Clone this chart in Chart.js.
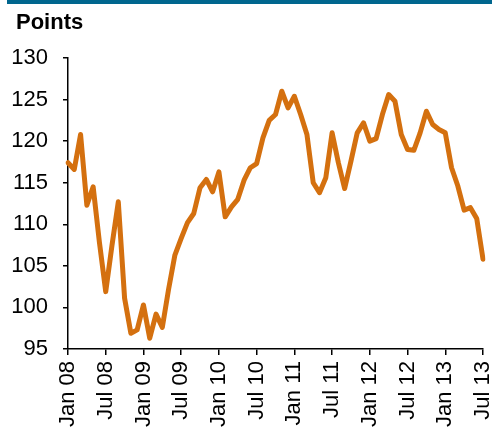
<!DOCTYPE html>
<html>
<head>
<meta charset="utf-8">
<script src="https://cdn.jsdelivr.net/npm/chart.js@4"></script>
<style>
  body { margin: 0; background: #fff; }
  #wrap { position: relative; width: 492px; height: 428px; overflow: hidden; }
  #band { position: absolute; left: 7px; top: 0; width: 485px; height: 4px; background: #00668e; }
  #unit { position: absolute; left: 16px; top: 9px; font: bold 22px "Liberation Sans", Arial, sans-serif; color: #000; }
  canvas { position: absolute; left: 0; top: 0; }
</style>
</head>
<body>
<div id="wrap">
  <canvas id="myChart" width="492" height="428"></canvas>
  <div id="band"></div>
  <div id="unit">Points</div>
</div>
<script>
// monthly index, Jan 08 .. Jul 13
const months = ['Jan', 'Feb', 'Mar', 'Apr', 'May', 'Jun', 'Jul', 'Aug', 'Sep', 'Oct', 'Nov', 'Dec'];
const years = ['08', '09', '10', '11', '12', '13'];
const values = [
  117.4, 116.6, 120.8, 112.3, 114.5, 107.8, 101.9, 107.5, 112.7, 101.1, 96.9, 97.3,
  100.3, 96.3, 99.2, 97.6, 102.2, 106.3, 108.3, 110.2, 111.3, 114.4, 115.4, 113.9,
  116.3, 110.9, 112.1, 113.0, 115.3, 116.8, 117.3, 120.4, 122.5, 123.2, 126.0, 124.0,
  125.4, 123.2, 120.8, 115.0, 113.8, 115.6, 121.0, 117.4, 114.3, 117.6, 121.0, 122.2,
  120.0, 120.3, 123.2, 125.6, 124.8, 120.8, 119.0, 118.9, 121.0, 123.6, 122.0, 121.4,
  121.0, 116.8, 114.6, 111.7, 112.0, 110.7, 105.8
];

var labels = [];
for (var i = 0; i < values.length; i++) {
  labels.push(months[i % 12] + ' ' + years[Math.floor(i / 12)]);
}

Chart.defaults.font.family = '"Liberation Sans", Arial, sans-serif';
Chart.defaults.font.size = 22;
Chart.defaults.color = '#000';

const config = {
  type: 'line',
  data: {
    labels: labels,
    datasets: [{
      data: values,
      borderColor: '#d4700f',
      borderWidth: 5,
      borderJoinStyle: 'round',
      borderCapStyle: 'round',
      pointRadius: 0,
      tension: 0,
      fill: false
    }]
  },
  options: {
    responsive: false,
    animation: false,
    layout: { padding: { top: 58, right: 9, left: 0, bottom: 0 } },
    plugins: {
      legend: { display: false },
      tooltip: { enabled: false }
    },
    scales: {
      x: {
        grid: {
          drawOnChartArea: false,
          tickLength: 6,
          lineWidth: 1.5,
          color: function (c) { return c.index % 6 === 0 ? '#000' : 'rgba(0,0,0,0)'; }
        },
        border: { color: '#000', width: 1.5 },
        ticks: {
          autoSkip: false,
          minRotation: 90,
          maxRotation: 90,
          padding: 6,
          callback: function (v, i) { return i % 6 === 0 ? labels[i] : ''; }
        },
        afterFit: function (s) { s.height = 79; s.paddingLeft = 0; s.paddingRight = 0; }
      },
      y: {
        min: 95,
        max: 130,
        grid: { drawOnChartArea: false, tickLength: 5, lineWidth: 1.5, color: '#000' },
        border: { color: '#000', width: 1.5 },
        ticks: { stepSize: 5, padding: 15 },
        afterFit: function (s) { s.width = 68; s.paddingTop = 0; s.paddingBottom = 0; }
      }
    }
  }
};

var ctx = document.getElementById('myChart').getContext('2d');
grafica = new Chart(ctx, config);
</script>
</body>
</html>
